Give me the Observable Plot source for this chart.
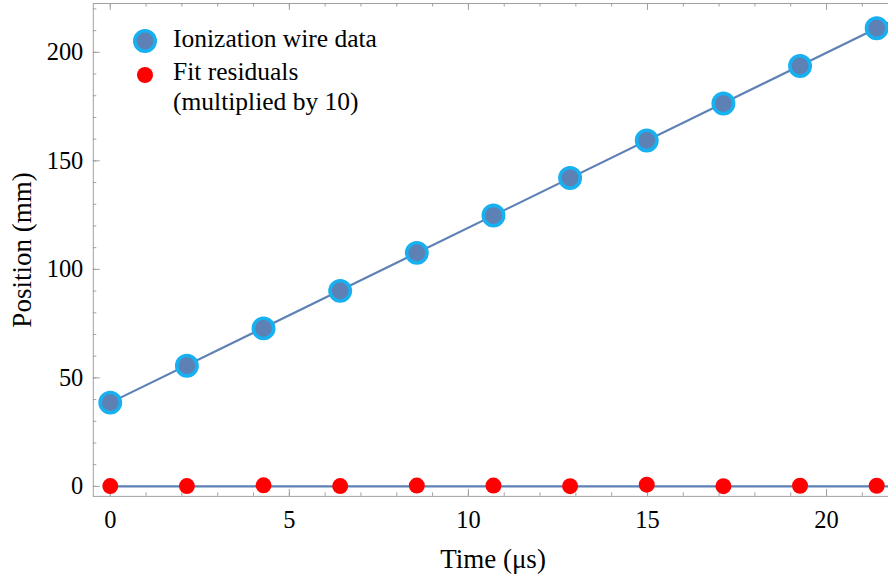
<!DOCTYPE html>
<html><head><meta charset="utf-8">
<script src="https://cdn.jsdelivr.net/npm/d3@7"></script>
<script src="https://cdn.jsdelivr.net/npm/@observablehq/plot@0.6"></script>
<style>
html,body{margin:0;padding:0;background:#fff;overflow:hidden;}
#wrap{position:relative;width:888px;height:577px;overflow:hidden;font-family:"Liberation Serif","Times New Roman",serif;}
#overlay{position:absolute;left:0;top:0;pointer-events:none;}
</style></head><body><div id="wrap"></div>
<script>
// Data
const time = [0, 2.14, 4.28, 6.42, 8.56, 10.7, 12.84, 14.98, 17.12, 19.26, 21.4];
const position = [38.6, 55.6, 72.8, 90.1, 107.6, 124.8, 142.1, 159.4, 176.4, 193.7, 211.1];
const residualX10 = [0.15, 0.15, 0.5, 0.15, 0.4, 0.4, 0.1, 0.8, 0.1, 0.3, 0.3];
const fitTime = [0, 21.7];
const fitPosition = [38.6, 213.5];
const residualLine = [0, 0];
const xMajorTicks = [0, 5, 10, 15, 20];
const xMinorTicks = d3.range(0, 22, 1);
const yMajorTicks = [0, 50, 100, 150, 200];
const yMinorTicks = d3.range(0, 221, 10);
const legendLabels = ["Ionization wire data", "Fit residuals", "(multiplied by 10)"];
const xLabel = "Time (μs)";
const yLabel = "Position (mm)";

const W = 890, H = 577, mL = 93, mR = 0, mT = 3, mB = 80;
const innerW = W - mL - mR, innerH = H - mT - mB;
const frameColor = "#a0a0a0";
const lineColor = "#5e81b5";
const dotStroke = "#17b0f0";
const red = "#ff0000";

const pts = time.map((t, i) => ({t, p: position[i], r: residualX10[i]}));
const fit = fitTime.map((t, i) => ({t, p: fitPosition[i], z: residualLine[i]}));

const major = 7, minor = 3.5;
const plot = Plot.plot({
  width: W, height: H,
  marginLeft: mL, marginRight: mR, marginTop: mT, marginBottom: mB,
  style: {fontFamily: '"Liberation Serif","Times New Roman",serif', fontSize: "24.5px", color: "#000", background: "#fff"},
  x: {domain: [-0.474, 21.73], label: null},
  y: {domain: [-4.6, 222.5], label: null},
  marks: [
    Plot.frame({stroke: frameColor}),
    // inward ticks: bottom & top (x), left (y)
    Plot.tickX(xMinorTicks, {x: d => d, stroke: frameColor, insetTop: innerH - minor}),
    Plot.tickX(xMajorTicks, {x: d => d, stroke: frameColor, insetTop: innerH - major}),
    Plot.tickX(xMinorTicks, {x: d => d, stroke: frameColor, insetBottom: innerH - minor}),
    Plot.tickX(xMajorTicks, {x: d => d, stroke: frameColor, insetBottom: innerH - major}),
    Plot.tickY(yMinorTicks, {y: d => d, stroke: frameColor, insetRight: innerW - minor}),
    Plot.tickY(yMajorTicks, {y: d => d, stroke: frameColor, insetRight: innerW - major}),
    Plot.axisX({ticks: xMajorTicks, tickSize: 0, tickPadding: 14, label: null, fontSize: 24.5}),
    Plot.axisY({ticks: yMajorTicks, tickSize: 0, tickPadding: 10, label: null, fontSize: 24.5}),
    Plot.line(fit, {x: "t", y: "p", stroke: lineColor, strokeWidth: 2.2}),
    Plot.line(fit, {x: "t", y: "z", stroke: lineColor, strokeWidth: 2.2}),
    Plot.dot(pts, {x: "t", y: "p", r: 10.2, fill: lineColor, stroke: dotStroke, strokeWidth: 3.6}),
    Plot.dot(pts, {x: "t", y: "r", r: 8, fill: red})
  ]
});
const wrap = document.getElementById("wrap");
wrap.appendChild(plot);

// Overlay: legend and axis titles
const ov = d3.select(wrap).append("svg").attr("id", "overlay").attr("width", 888).attr("height", 577)
  .style("font-family", '"Liberation Serif","Times New Roman",serif');
ov.append("circle").attr("cx", 145).attr("cy", 41).attr("r", 10.2).attr("fill", lineColor).attr("stroke", dotStroke).attr("stroke-width", 3.6);
ov.append("circle").attr("cx", 145).attr("cy", 75).attr("r", 8).attr("fill", red);
const lg = ov.append("g").style("font-size", "25.5px");
lg.append("text").attr("x", 173).attr("y", 47).text(legendLabels[0]);
lg.append("text").attr("x", 173).attr("y", 80).text(legendLabels[1]);
lg.append("text").attr("x", 173).attr("y", 110).text(legendLabels[2]);
ov.append("text").attr("x", 493).attr("y", 568).attr("text-anchor", "middle").style("font-size", "27px").text(xLabel);
ov.append("text").attr("transform", "translate(31,250) rotate(-90)").attr("text-anchor", "middle").style("font-size", "27px").text(yLabel);
</script>
</body></html>
